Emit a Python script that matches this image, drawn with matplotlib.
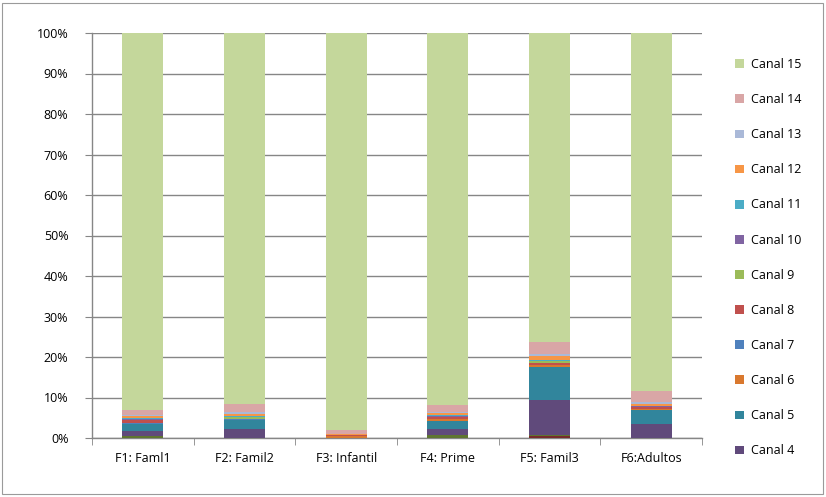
import matplotlib
matplotlib.use('Agg')
import matplotlib.pyplot as plt
import matplotlib.patches as patches
import numpy as np

categories = ['F1: Faml1', 'F2: Famil2', 'F3: Infantil', 'F4: Prime', 'F5: Famil3', 'F6:Adultos']

canal_names = ['Canal 1', 'Canal 2', 'Canal 3', 'Canal 4', 'Canal 5', 'Canal 6', 'Canal 7',
               'Canal 8', 'Canal 9', 'Canal 10', 'Canal 11', 'Canal 12', 'Canal 13',
               'Canal 14', 'Canal 15']

# porcentaje por canal (filas) y franja (columnas)
canal_1 = [0.0, 0.0, 0.0, 0.0, 0.0, 0.0]
canal_2 = [0.0, 0.0, 0.0, 0.0, 0.4, 0.0]
canal_3 = [0.6, 0.0, 0.0, 0.8, 0.4, 0.0]
canal_4 = [1.2, 2.1, 0.05, 1.5, 8.6, 3.4]
canal_5 = [1.6, 2.3, 0.05, 2.0, 8.2, 3.5]
canal_6 = [0.1, 0.1, 0.5, 0.3, 0.4, 0.2]
canal_7 = [0.3, 0.1, 0.0, 0.2, 0.1, 0.1]
canal_8 = [0.6, 0.2, 0.1, 0.3, 0.4, 0.4]
canal_9 = [0.15, 0.3, 0.0, 0.2, 0.4, 0.1]
canal_10 = [0.2, 0.1, 0.0, 0.2, 0.1, 0.1]
canal_11 = [0.3, 0.3, 0.0, 0.3, 0.3, 0.2]
canal_12 = [0.3, 0.4, 0.2, 0.3, 0.9, 0.4]
canal_13 = [0.25, 0.4, 0.2, 0.3, 0.5, 0.5]
canal_14 = [1.4, 2.0, 0.8, 1.8, 3.0, 2.6]
canal_15 = [93.0, 91.7, 98.1, 91.8, 76.3, 88.5]

colors = ['#2C4D75', '#772C2A', '#5F7530', '#604A7B', '#31859C', '#D9782E', '#4F81BD',
          '#C0504D', '#9BBB59', '#8064A2', '#4BACC6', '#F79646', '#AAB9D8', '#D9A6A6',
          '#C4D79B']


def main():
    series = [canal_1, canal_2, canal_3, canal_4, canal_5, canal_6, canal_7, canal_8,
              canal_9, canal_10, canal_11, canal_12, canal_13, canal_14, canal_15]
    data = np.array(series, dtype=float)
    data = data / data.sum(axis=0) * 100

    plt.rcParams['font.family'] = ['Open Sans', 'DejaVu Sans']
    fig = plt.figure(figsize=(8.26, 4.97), dpi=100)
    ax = fig.add_axes([92 / 826, 59 / 497, 610 / 826, 405 / 497])

    # borde del grafico
    fig.patches.append(patches.Rectangle((2 / 826, 3 / 497), 821 / 826, 491 / 497,
                                         transform=fig.transFigure, fill=False,
                                         edgecolor='#9A9A9A', linewidth=0.8))

    x = np.arange(len(categories))
    bottom = np.zeros(len(categories))
    handles = []
    for i, vals in enumerate(data):
        h = ax.bar(x, vals, 0.4, bottom=bottom, color=colors[i], linewidth=0, zorder=3)
        handles.append(h)
        bottom += vals

    ax.set_xlim(-0.5, len(categories) - 0.5)
    ax.set_ylim(0, 100)
    ax.set_yticks(np.arange(0, 101, 10))
    ax.set_yticklabels([f'{v}%' for v in range(0, 101, 10)], fontsize=9)
    ax.set_xticks(x)
    ax.set_xticklabels(categories, fontsize=9)
    ax.set_xticks(np.arange(-0.5, len(categories), 1), minor=True)
    ax.tick_params(axis='x', which='major', length=0, pad=10)
    ax.tick_params(axis='x', which='minor', length=5, color='#868686')
    ax.tick_params(axis='y', length=5, color='#868686', pad=12)
    ax.grid(axis='y', color='#868686', linewidth=1, zorder=0)
    for s in ['top', 'right']:
        ax.spines[s].set_visible(False)
    for s in ['left', 'bottom']:
        ax.spines[s].set_color('#868686')
        ax.spines[s].set_linewidth(1)

    # leyenda: Canal 4 .. Canal 15, de arriba abajo 15 -> 4
    leg_idx = list(range(14, 2, -1))
    fig.legend([handles[i] for i in leg_idx], [canal_names[i] for i in leg_idx],
               loc='upper left', bbox_to_anchor=(730 / 826, 1 - 53 / 497),
               frameon=False, fontsize=9, handlelength=0.7, handleheight=0.7,
               handletextpad=0.6, labelspacing=1.77, borderaxespad=0)

    fig.savefig('out.png', dpi=100)


if __name__ == "__main__":
    main()
